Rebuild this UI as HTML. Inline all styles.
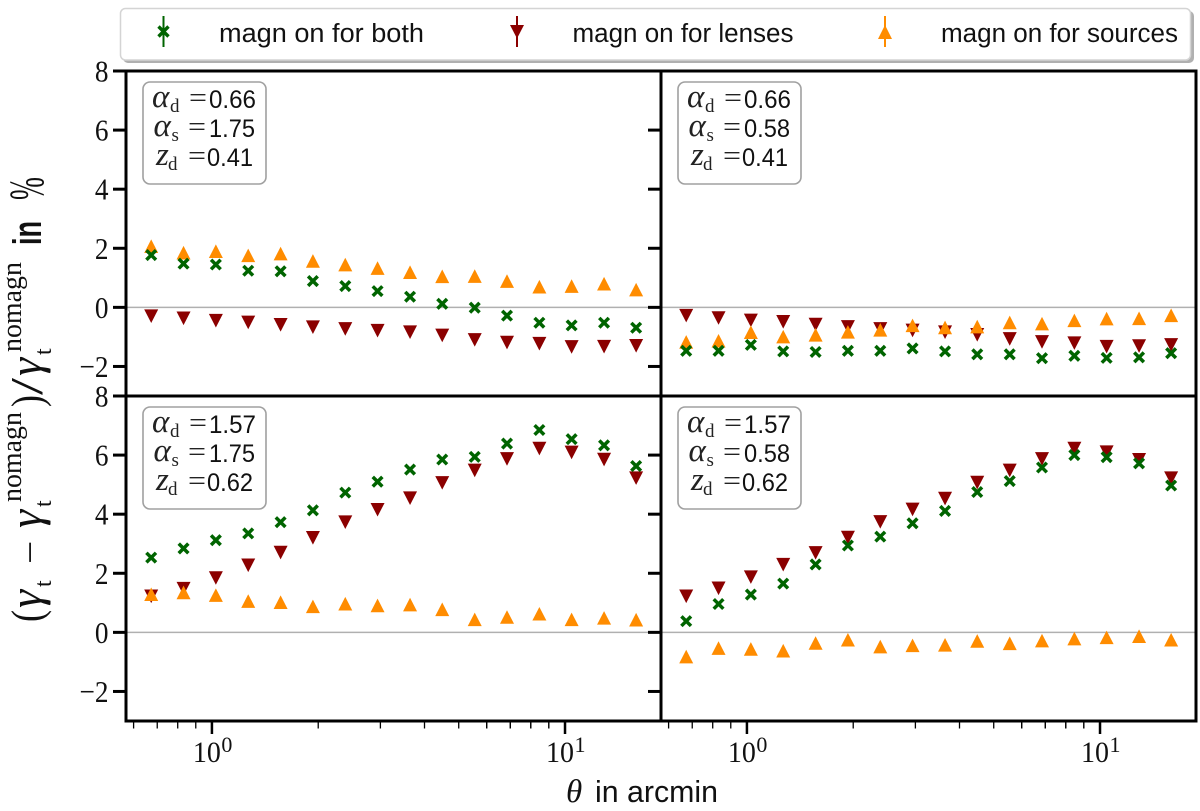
<!DOCTYPE html>
<html>
<head>
<meta charset="utf-8">
<style>
html,body{margin:0;padding:0;background:#fff;}
svg{display:block;}
.serif{font-family:"Liberation Serif",serif;}
.ital{font-family:"Liberation Serif",serif;font-style:italic;}
.sans{font-family:"Liberation Sans",sans-serif;}
</style>
</head>
<body>
<svg id="figure" xmlns="http://www.w3.org/2000/svg" width="1200" height="811" viewBox="0 0 1200 811">
  <rect width="1200" height="811" fill="#fff"/>
  <g id="plots"></g>

  <g>
    <rect x="123" y="11" width="1071" height="52" rx="5" fill="#b0b0b0"/>
    <rect x="120.5" y="8.5" width="1070" height="51.5" rx="5" fill="#fff" stroke="#d4d4d4" stroke-width="1.5"/>
    <g>
      <line x1="163.5" y1="16" x2="163.5" y2="47" stroke="#006400" stroke-width="2"/>
      <path d="M158.500 26.500 L168.500 36.500 M168.500 26.500 L158.500 36.500" stroke="#006400" stroke-width="3.4" fill="none"/>
      <text class="sans" x="219" y="42" font-size="26.3" textLength="205" lengthAdjust="spacingAndGlyphs" fill="#111">magn on for both</text>
    </g>
    <g>
      <line x1="517" y1="16" x2="517" y2="47" stroke="#8b0000" stroke-width="2"/>
      <path d="M510 25 L524 25 L517 38.500 Z" fill="#8b0000"/>
      <text class="sans" x="572.500" y="42" font-size="26.3" textLength="221" lengthAdjust="spacingAndGlyphs" fill="#111">magn on for lenses</text>
    </g>
    <g>
      <line x1="885" y1="16" x2="885" y2="47" stroke="#ff8c00" stroke-width="2"/>
      <path d="M878 39 L892 39 L885 25 Z" fill="#ff8c00"/>
      <text class="sans" x="941" y="42" font-size="26.3" textLength="237" lengthAdjust="spacingAndGlyphs" fill="#111">magn on for sources</text>
    </g>
  </g>

  <g fill="#111">
    <text class="serif" transform="translate(42,622) rotate(-90)" font-size="44" textLength="12" lengthAdjust="spacingAndGlyphs">(</text>
    <text class="ital" transform="translate(41,608) rotate(-90)" font-size="46">γ</text>
    <text class="serif" transform="translate(51,587) rotate(-90)" font-size="24">t</text>
    <text class="serif" transform="translate(42,564) rotate(-90) scale(1.15,1)" font-size="36">−</text>
    <text class="ital" transform="translate(41,528) rotate(-90)" font-size="46">γ</text>
    <text class="serif" transform="translate(51,507) rotate(-90)" font-size="24">t</text>
    <text class="serif" transform="translate(21,502) rotate(-90)" font-size="28" textLength="90" lengthAdjust="spacingAndGlyphs">nomagn</text>
    <text class="serif" transform="translate(42,407) rotate(-90)" font-size="44" textLength="12" lengthAdjust="spacingAndGlyphs">)</text>
    <text class="serif" transform="translate(42,395) rotate(-90)" font-size="46" textLength="17" lengthAdjust="spacingAndGlyphs">/</text>
    <text class="ital" transform="translate(41,376) rotate(-90)" font-size="46">γ</text>
    <text class="serif" transform="translate(51,355) rotate(-90)" font-size="24">t</text>
    <text class="serif" transform="translate(21,352) rotate(-90)" font-size="28" textLength="90" lengthAdjust="spacingAndGlyphs">nomagn</text>
    <text class="sans" transform="translate(41,245) rotate(-90) scale(0.68,1)" font-size="40" font-weight="700">in</text>
    <text class="serif" transform="translate(43,200) rotate(-90) scale(0.55,1)" font-size="50">%</text>
  </g>

  <g fill="#111">
    <text class="ital" x="566" y="802" font-size="33">θ</text>
    <text class="sans" x="595" y="802" font-size="31" textLength="123" lengthAdjust="spacingAndGlyphs">in arcmin</text>
  </g>
</svg>

<script>
const theta = [0.673, 0.831, 1.026, 1.267, 1.565, 1.932, 2.386, 2.945, 3.64, 4.49, 5.55, 6.85, 8.46, 10.44, 12.9, 15.9];

const bothTopLeft = [1.77, 1.48, 1.45, 1.24, 1.22, 0.89, 0.72, 0.55, 0.36, 0.12, -0.01, -0.28, -0.52, -0.61, -0.52, -0.69];
const lensesTopLeft = [-0.3, -0.37, -0.45, -0.51, -0.59, -0.67, -0.73, -0.79, -0.84, -0.95, -1.1, -1.19, -1.23, -1.34, -1.33, -1.3];
const sourcesTopLeft = [2.07, 1.85, 1.9, 1.76, 1.82, 1.57, 1.45, 1.33, 1.19, 1.05, 1.06, 0.89, 0.7, 0.72, 0.8, 0.6];

const bothTopRight = [-1.47, -1.47, -1.27, -1.49, -1.51, -1.47, -1.47, -1.39, -1.49, -1.59, -1.59, -1.72, -1.64, -1.71, -1.69, -1.55];
const lensesTopRight = [-0.28, -0.36, -0.44, -0.49, -0.58, -0.66, -0.73, -0.78, -0.84, -0.93, -1.07, -1.17, -1.21, -1.33, -1.31, -1.27];
const sourcesTopRight = [-1.17, -1.13, -0.84, -0.99, -0.93, -0.83, -0.76, -0.61, -0.68, -0.65, -0.51, -0.55, -0.44, -0.38, -0.37, -0.27];

const bothBottomLeft = [2.53, 2.84, 3.12, 3.35, 3.73, 4.13, 4.73, 5.1, 5.51, 5.85, 5.94, 6.39, 6.85, 6.54, 6.33, 5.63];
const lensesBottomLeft = [1.22, 1.48, 1.84, 2.27, 2.7, 3.2, 3.73, 4.15, 4.54, 5.06, 5.48, 5.87, 6.22, 6.09, 5.85, 5.22];
const sourcesBottomLeft = [1.29, 1.35, 1.26, 1.06, 1.02, 0.88, 0.97, 0.91, 0.94, 0.78, 0.44, 0.52, 0.63, 0.44, 0.49, 0.43];

const bothBottomRight = [0.38, 0.96, 1.28, 1.65, 2.3, 2.94, 3.24, 3.69, 4.11, 4.75, 5.12, 5.58, 6.0, 5.93, 5.72, 4.97];
const lensesBottomRight = [1.22, 1.49, 1.87, 2.29, 2.69, 3.21, 3.74, 4.16, 4.53, 5.07, 5.48, 5.87, 6.22, 6.1, 5.84, 5.22];
const sourcesBottomRight = [-0.82, -0.53, -0.56, -0.62, -0.36, -0.25, -0.48, -0.44, -0.42, -0.29, -0.37, -0.28, -0.21, -0.17, -0.13, -0.25];

const yTickValues = [-2, 0, 2, 4, 6, 8];
const xMajorTicks = [1, 10];
const xMajorLabels = ["0", "1"];
const xMinorTicks = [0.6, 0.7, 0.8, 0.9, 2, 3, 4, 5, 6, 7, 8, 9];

const alphaDLabels = ["0.66", "0.66", "1.57", "1.57"];
const alphaSLabels = ["1.75", "0.58", "1.75", "0.58"];
const zDLabels = ["0.41", "0.41", "0.62", "0.62"];

const NS = "http://www.w3.org/2000/svg";
const root = document.getElementById("plots");
const X_MIN = 0.571, X_MAX = 18.7, Y_MIN = -3, Y_MAX = 8;
const PLOT_LEFT = 126, PLOT_W = 535, PLOT_TOP = 71, PLOT_H = 325;

function make(tag, attrs, parent, txt) {
  const n = document.createElementNS(NS, tag);
  for (const k in attrs) n.setAttribute(k, attrs[k]);
  if (txt !== undefined) n.textContent = txt;
  parent.appendChild(n);
  return n;
}
function xAxis(col, v) {
  return PLOT_LEFT + col * PLOT_W + (Math.log10(v) - Math.log10(X_MIN)) / (Math.log10(X_MAX) - Math.log10(X_MIN)) * PLOT_W;
}
function yAxis(row, v) {
  return PLOT_TOP + row * PLOT_H + (Y_MAX - v) / (Y_MAX - Y_MIN) * PLOT_H;
}

function drawDown(g, cx, cy) {
  const m = make("path", {d: `M${cx - 7} ${cy - 6.8} L${cx + 7} ${cy - 6.8} L${cx} ${cy + 6.8} Z`, fill: "#8b0000"}, g);
  
  
}
function drawUp(g, cx, cy) {
  const m = make("path", {d: `M${cx - 7} ${cy + 6.8} L${cx + 7} ${cy + 6.8} L${cx} ${cy - 6.8} Z`, fill: "#ff8c00"}, g);
  
  
}
function drawCross(g, cx, cy) {
  const m = make("path", {d: `M${cx - 4.8} ${cy - 4.8} L${cx + 4.8} ${cy + 4.8} M${cx + 4.8} ${cy - 4.8} L${cx - 4.8} ${cy + 4.8}`, stroke: "#006400", "stroke-width": 3.5, fill: "none"}, g);
  
  
}

function drawPanel(col, row, both, lenses, sources, index) {
  const g = make("g", {}, root);
  
  

  const x0 = PLOT_LEFT + col * PLOT_W, x1 = x0 + PLOT_W;
  const y0 = PLOT_TOP + row * PLOT_H, y1 = y0 + PLOT_H;

  const zero = make("line", {x1: x0, x2: x1, y1: yAxis(row, 0), y2: yAxis(row, 0), stroke: "#b0b0b0", "stroke-width": 1.5}, g);
  
  

  theta.forEach((t, i) => drawDown(g, xAxis(col, t), yAxis(row, lenses[i])));
  theta.forEach((t, i) => drawUp(g, xAxis(col, t), yAxis(row, sources[i])));
  theta.forEach((t, i) => drawCross(g, xAxis(col, t), yAxis(row, both[i])));

  const frame = make("rect", {x: x0, y: y0, width: PLOT_W, height: PLOT_H, fill: "none", stroke: "#000", "stroke-width": 3}, g);
  
  

  yTickValues.forEach(v => {
    const y = yAxis(row, v);
    const tick = make("line", {x1: x0 - 13, x2: x0, y1: y, y2: y, stroke: "#000", "stroke-width": 3}, g);
    
    
    if (col === 0) {
      const label = make("text", {transform: `translate(108.5,${y + 10.5}) scale(0.88,1)`, "text-anchor": "end", "font-size": 31, fill: "#111", class: "serif"}, g, (v < 0 ? "−" : "") + Math.abs(v));
      
      
    }
  });

  if (row === 1) {
    xMajorTicks.forEach((v, i) => {
      const x = xAxis(col, v);
      const tick = make("line", {x1: x, x2: x, y1: y1, y2: y1 + 13, stroke: "#000", "stroke-width": 2.5}, g);
      
      
      const label = make("text", {x: x - 19, y: 762, "font-size": 30, fill: "#111", class: "serif", textLength: 28, lengthAdjust: "spacingAndGlyphs"}, g, "10");
      
      
      const exp = make("text", {x: x + 9.500, y: 752, "font-size": 22, fill: "#111", class: "serif"}, g, xMajorLabels[i]);
      
      
    });
    xMinorTicks.forEach(base => {
      [base, base * 10].forEach(v => {
        if (v < X_MIN || v > X_MAX) return;
        const x = xAxis(col, v);
        const tick = make("line", {x1: x, x2: x, y1: y1, y2: y1 + 7.5, stroke: "#000", "stroke-width": 1.300}, g);
        
        
      });
    });
  }

  const bx = x0 + 17, by = y0 + 11;
  const box = make("g", {}, g);
  
  
  make("rect", {x: bx, y: by, width: 123, height: 102, rx: 7, fill: "#fff", stroke: "#a0a0a0", "stroke-width": 1.6}, box);

  make("text", {x: bx + 9, y: by + 25, "font-size": 33, fill: "#222", class: "ital"}, box, "α");
  make("text", {x: bx + 27, y: by + 30, "font-size": 19, fill: "#222", class: "serif"}, box, "d");
  make("text", {x: bx + 46, y: by + 25, "font-size": 28, fill: "#222", class: "serif", textLength: 18, lengthAdjust: "spacingAndGlyphs"}, box, "=");
  make("text", {x: bx + 66, y: by + 26, "font-size": 25, fill: "#111", class: "sans", textLength: 47, lengthAdjust: "spacingAndGlyphs"}, box, alphaDLabels[index]);

  make("text", {x: bx + 10.500, y: by + 54, "font-size": 33, fill: "#222", class: "ital"}, box, "α");
  make("text", {x: bx + 28.5, y: by + 59, "font-size": 19, fill: "#222", class: "serif"}, box, "s");
  make("text", {x: bx + 45, y: by + 54, "font-size": 28, fill: "#222", class: "serif", textLength: 18, lengthAdjust: "spacingAndGlyphs"}, box, "=");
  make("text", {x: bx + 66, y: by + 55, "font-size": 25, fill: "#111", class: "sans", textLength: 46, lengthAdjust: "spacingAndGlyphs"}, box, alphaSLabels[index]);

  make("text", {x: bx + 13, y: by + 83, "font-size": 33, fill: "#222", class: "ital"}, box, "z");
  make("text", {x: bx + 25, y: by + 88, "font-size": 19, fill: "#222", class: "serif"}, box, "d");
  make("text", {x: bx + 45, y: by + 83, "font-size": 28, fill: "#222", class: "serif", textLength: 18, lengthAdjust: "spacingAndGlyphs"}, box, "=");
  make("text", {x: bx + 64, y: by + 84, "font-size": 25, fill: "#111", class: "sans", textLength: 46, lengthAdjust: "spacingAndGlyphs"}, box, zDLabels[index]);
}

drawPanel(0, 0, bothTopLeft, lensesTopLeft, sourcesTopLeft, 0);
drawPanel(1, 0, bothTopRight, lensesTopRight, sourcesTopRight, 1);
drawPanel(0, 1, bothBottomLeft, lensesBottomLeft, sourcesBottomLeft, 2);
drawPanel(1, 1, bothBottomRight, lensesBottomRight, sourcesBottomRight, 3);
</script>
</body>
</html>
